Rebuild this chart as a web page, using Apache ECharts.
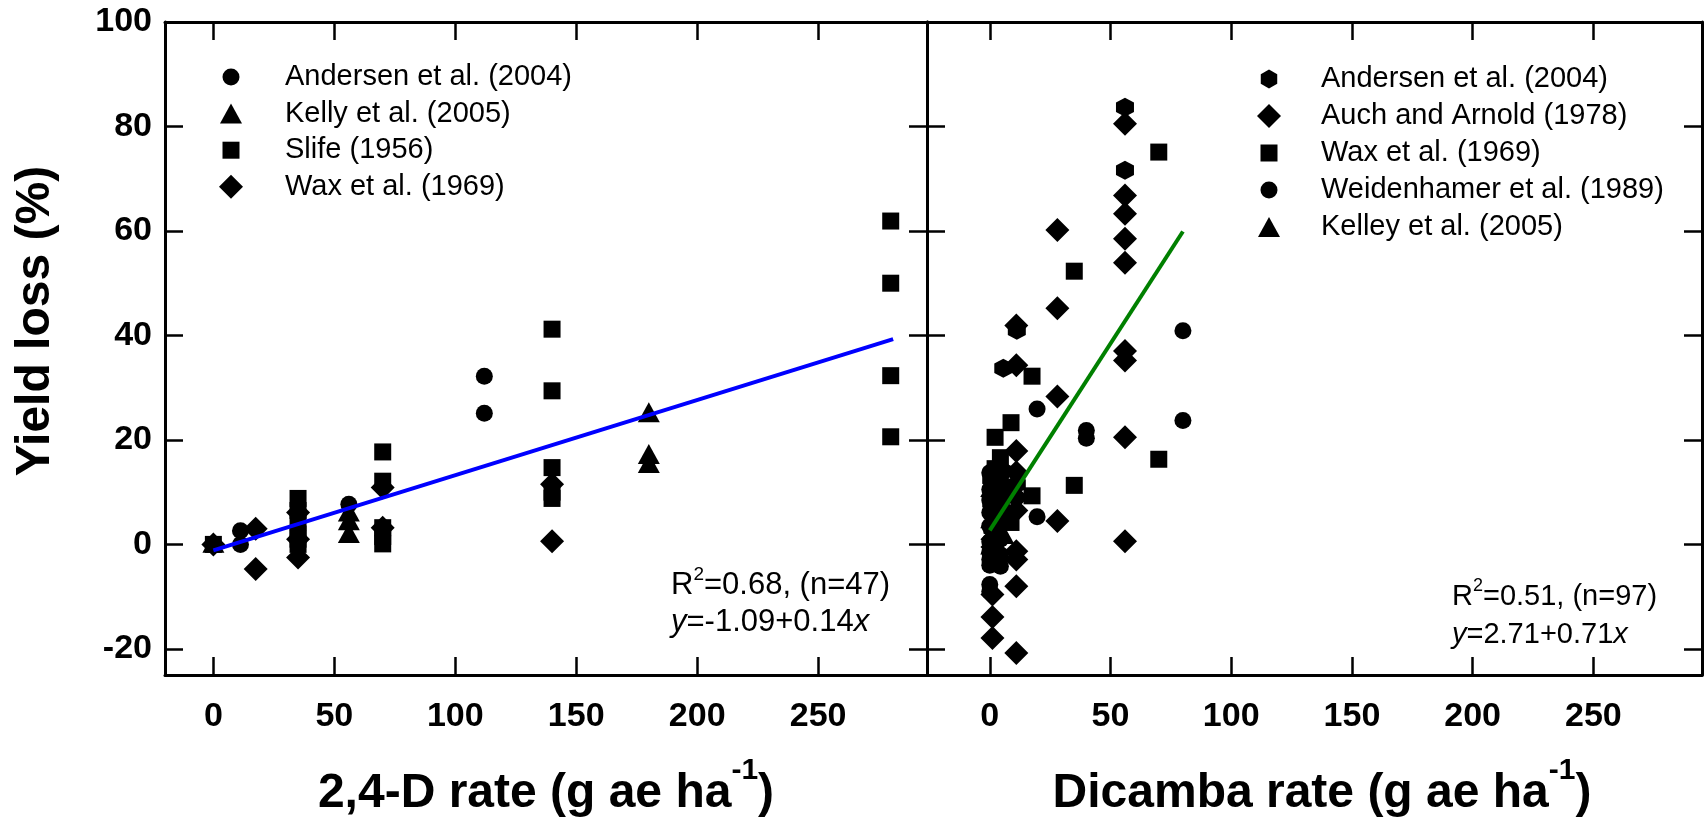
<!DOCTYPE html>
<html><head><meta charset="utf-8">
<script src="https://cdn.jsdelivr.net/npm/echarts@6/dist/echarts.min.js"></script>
<style>html,body{margin:0;padding:0;background:#fff}#c{width:1706px;height:822px}</style>
</head><body><div id="c"></div>
<script>
// ---------- tick labels ----------
const xTicks = [0, 50, 100, 150, 200, 250];
const yTicks = [-20, 0, 20, 40, 60, 80, 100];

// ---------- 2,4-D panel data [rate, yield loss] ----------
const d24Andersen = [[0,0],[11.2,2.6],[11.2,0],[56,7.7],[112,32.2],[112,25.1]];
const d24Kelly    = [[0,0.3],[56,6.3],[56,4.6],[56,2.2],[180,25.3],[180,17.3],[180,15.6]];
const d24Slife    = [[0,0],[35,8.8],[35,6.5],[35,4.2],[35,2],[35,0],[35,1],
                     [70,17.7],[70,12.1],[70,3.2],[70,0.1],[70,1.5],
                     [140,41.2],[140,29.4],[140,14.7],[140,10],[140,8.8],
                     [280,61.9],[280,50],[280,32.3],[280,20.6]];
const d24Wax      = [[0,0],[17.5,3.0],[17.5,-4.7],[35,6.1],[35,1],[35,-2.5],
                     [70,10.9],[70,3.2],[140,11.5],[140,0.6]];
const d24Fit      = [[0,-1.15],[281,39.3]];

// ---------- Dicamba panel data ----------
const dicAndersen = [[56,83.7],[56,71.6],[11.2,41],[5.6,33.7],[0.6,12.5],[0.6,8],[1.1,3],[5.6,14],[5.6,9],[11.2,11.5]];
const dicAuch     = [[56,80.5],[56,66.8],[56,63.3],[56,58.5],[56,53.9],[56,37],[56,35.2],[56,20.5],[56,0.6],
                     [28,60.2],[28,45.2],[28,28.3],[28,4.5],
                     [11,41.9],[11,34.3],[11,17.9],[11,13.8],[11,9],[11,6.5],[11,-1.3],[11,-2.9],[11,-8],[11,-20.8],
                     [1.1,1],[1.1,-0.5],[1.1,-9.6],[1.1,-13.9],[1.1,-17.9]];
const dicWax      = [[70,75.1],[70,16.3],[35,52.3],[35,11.3],[17.5,32.2],[17.5,9.3],
                     [8.8,23.3],[8.8,10],[8.8,4.2],[4.4,16.6],[4.4,12],[4.4,7],
                     [2.2,20.5],[2.2,14.5],[2.2,9],[2.2,5]];
const dicWeid     = [[80,40.9],[80,23.7],[40,21.8],[40,20.3],[19.6,25.9],[19.6,5.3],
                     [0,13.7],[0,10.5],[0,8.5],[0,6.1],[0,3.5],[0,0.5],[0,-1.5],[0,-2.9],[0,-4],[0,-7.7],[0,-9],
                     [4.4,-4.2],[4.4,-2],[4.4,1],[4.4,4]];
const dicKelley   = [[0.6,11],[0.6,5],[0.6,0],[5.6,12],[5.6,8],[5.6,2],[2.2,3],[2.2,-1]];
const dicFit      = [[0,2.7],[80,59.9]];

// ---------- legend & text ----------
const legendLeft  = ['Andersen et al. (2004)','Kelly et al. (2005)','Slife (1956)','Wax et al. (1969)'];
const legendLeftSym  = ['circle','triangle','rect','diamond'];
const legendRight = ['Andersen et al. (2004)','Auch and Arnold (1978)','Wax et al. (1969)','Weidenhamer et al. (1989)','Kelley et al. (2005)'];
const legendRightSym = ['hexagon','diamond','rect','circle','triangle'];

const FONT = '"Liberation Sans", Arial, sans-serif';
const HEX = 'path://M0,-1L0.866,-0.5L0.866,0.5L0,1L-0.866,0.5L-0.866,-0.5Z';
const SYM = {
  circle:  {symbol:'circle',  size:17},
  rect:    {symbol:'rect',    size:17},
  diamond: {symbol:'diamond', size:24},
  triangle:{symbol:'triangle',size:[22,20]},
  hexagon: {symbol:HEX,       size:[18,19]}
};

const chart = echarts.init(document.getElementById('c'), null, {renderer:'canvas'});

function xAx(grid, pos, min, labels){
  return {type:'value', gridIndex:grid, position:pos, min:min, max:295,
    axisLine:{show:true, onZero:false, lineStyle:{color:'#000', width:3}},
    axisTick:{show:true, inside:true, length:18, customValues:xTicks, lineStyle:{color:'#000', width:2.5}},
    axisLabel:{show:labels, customValues:xTicks, margin:25, fontSize:34, fontWeight:'bold', color:'#000', fontFamily:FONT},
    splitLine:{show:false}};
}
function yAx(grid, pos, labels){
  return {type:'value', gridIndex:grid, position:pos, min:-25, max:100,
    axisLine:{show:true, onZero:false, lineStyle:{color:'#000', width:3}},
    axisTick:{show:true, inside:true, length:18, customValues:yTicks, lineStyle:{color:'#000', width:2.5}},
    axisLabel:{show:labels, customValues:yTicks, margin:13, fontSize:34, fontWeight:'bold', color:'#000', fontFamily:FONT},
    splitLine:{show:false}};
}
function sc(name, data, kind, xi){
  return {type:'scatter', name:name, xAxisIndex:xi, yAxisIndex:xi, data:data,
    symbol:SYM[kind].symbol, symbolSize:SYM[kind].size,
    itemStyle:{color:'#000', opacity:1}, z:2, animation:false, silent:true};
}
function fit(data, color, xi){
  return {type:'line', data:data, xAxisIndex:xi, yAxisIndex:xi, showSymbol:false, symbol:'none',
    lineStyle:{color:color, width:4}, z:5, animation:false, silent:true};
}

// legend drawing (graphic)
function legendSymbol(kind, cx, cy){
  const st = {fill:'#000'};
  if (kind==='circle') return {type:'circle', shape:{cx:cx, cy:cy, r:8.5}, style:st};
  if (kind==='rect') return {type:'rect', shape:{x:cx-8.5, y:cy-8.5, width:17, height:17}, style:st};
  if (kind==='triangle') return {type:'polygon', shape:{points:[[cx,cy-10],[cx+11,cy+10],[cx-11,cy+10]]}, style:st};
  if (kind==='diamond') return {type:'polygon', shape:{points:[[cx,cy-12],[cx+12,cy],[cx,cy+12],[cx-12,cy]]}, style:st};
  const pts=[]; for(let i=0;i<6;i++){const a=-Math.PI/2+i*Math.PI/3; pts.push([cx+9.5*Math.cos(a), cy+9.5*Math.sin(a)]);}
  return {type:'polygon', shape:{points:pts}, style:st};
}
const graphics = [];
legendLeft.forEach((n,i)=>{
  const cy = 77 + i*36.6;
  graphics.push(legendSymbol(legendLeftSym[i], 231, cy));
  graphics.push({type:'text', x:285, y:cy, style:{text:n, font:'29px '+FONT, fill:'#000', verticalAlign:'middle', align:'left'}});
});
legendRight.forEach((n,i)=>{
  const cy = 79 + i*37;
  graphics.push(legendSymbol(legendRightSym[i], 1269, cy));
  graphics.push({type:'text', x:1321, y:cy, style:{text:n, font:'29px '+FONT, fill:'#000', verticalAlign:'middle', align:'left'}});
});

function annRich(fs){
  return {
    a:{fontSize:fs, fontFamily:FONT, color:'#000', lineHeight:fs+5, verticalAlign:'bottom'},
    i:{fontSize:fs, fontFamily:FONT, color:'#000', lineHeight:fs+5, verticalAlign:'bottom', fontStyle:'italic'},
    s:{fontSize:Math.round(fs*0.62), fontFamily:FONT, color:'#000', verticalAlign:'top'}
  };
}
function ann(x, y, text, fs){
  return {type:'text', x:x, y:y, style:{text:text, rich:annRich(fs), verticalAlign:'top', align:'left'}};
}
graphics.push(ann(671, 565, '{a|R}{s|2}{a|=0.68, (n=47)}', 31));
graphics.push(ann(671, 602, '{i|y}{a|=-1.09+0.14}{i|x}', 31));
graphics.push(ann(1452, 577, '{a|R}{s|2}{a|=0.51, (n=97)}', 29));
graphics.push(ann(1452, 615, '{i|y}{a|=2.71+0.71}{i|x}', 29));

const titleRich = {
  a:{fontSize:48, fontWeight:'bold', fontFamily:FONT, color:'#000', lineHeight:62, verticalAlign:'bottom'},
  s:{fontSize:30, fontWeight:'bold', fontFamily:FONT, color:'#000', verticalAlign:'top'}
};
graphics.push({type:'text', x:546, y:756, style:{text:'{a|2,4-D rate (g ae ha}{s|-1}{a|)}', rich:titleRich, align:'center', verticalAlign:'top'}});
graphics.push({type:'text', x:1322, y:756, style:{text:'{a|Dicamba rate (g ae ha}{s|-1}{a|)}', rich:titleRich, align:'center', verticalAlign:'top'}});
graphics.push({type:'text', x:36, y:321, rotation:Math.PI/2, style:{text:'Yield loss (%)', font:'bold 48px '+FONT, fill:'#000', align:'center', verticalAlign:'middle'}});

chart.setOption({
  animation:false,
  backgroundColor:'#fff',
  grid:[
    {left:165, top:22, width:762, height:653},
    {left:927, top:22, width:775, height:653}
  ],
  xAxis:[xAx(0,'bottom',-20,true), xAx(0,'top',-20,false), xAx(1,'bottom',-26,true), xAx(1,'top',-26,false)],
  yAxis:[yAx(0,'left',true), yAx(0,'right',false), yAx(1,'left',false), yAx(1,'right',false)],
  series:[
    sc(legendLeft[0], d24Andersen, 'circle', 0),
    sc(legendLeft[1], d24Kelly, 'triangle', 0),
    sc(legendLeft[2], d24Slife, 'rect', 0),
    sc(legendLeft[3], d24Wax, 'diamond', 0),
    fit(d24Fit, '#0000ff', 0),
    sc(legendRight[0], dicAndersen, 'hexagon', 2),
    sc(legendRight[1], dicAuch, 'diamond', 2),
    sc(legendRight[2], dicWax, 'rect', 2),
    sc(legendRight[3], dicWeid, 'circle', 2),
    sc(legendRight[4], dicKelley, 'triangle', 2),
    fit(dicFit, '#008000', 2)
  ],
  graphic:graphics
});
</script></body></html>
